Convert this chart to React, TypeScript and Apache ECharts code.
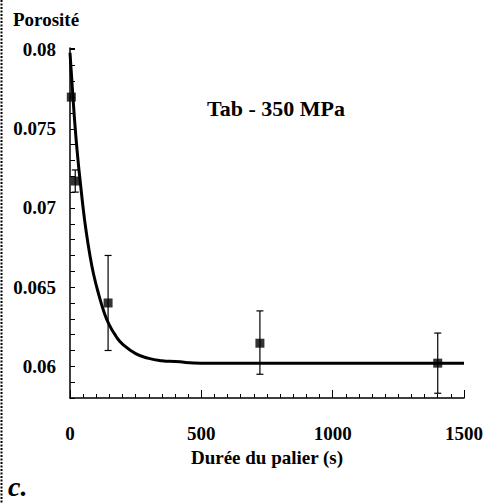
import React, { useEffect, useRef } from "react";
import * as echarts from "echarts";

// Measured points: time (s), porosity, error bar low / high
const pointTimes = [5, 20, 145, 723, 1400];
const pointValues = [0.0770, 0.0717, 0.0640, 0.06146, 0.0602];
const errLow = [0.0770, 0.0710, 0.0610, 0.0595, 0.0583];
const errHigh = [0.0770, 0.0724, 0.0670, 0.0635, 0.0621];

// Fitted curve
const curveTimes = [0, 10, 20, 30, 40, 50, 60, 75, 90, 110, 130, 150, 175, 200, 250, 300, 350, 400, 500, 1000, 1500];
const curveValues = [0.0798, 0.0773, 0.0750, 0.0731, 0.0715, 0.0700, 0.0687, 0.0671, 0.0658, 0.0645, 0.0634, 0.0626, 0.0619, 0.0614, 0.0608, 0.0605, 0.06035, 0.0603, 0.0602, 0.0602, 0.0602];

const yLabelValues = [0.06, 0.065, 0.07, 0.075, 0.08];

const FONT = "'Liberation Serif', 'DejaVu Serif', serif";

export default function App() {
  const ref = useRef<HTMLDivElement>(null);
  useEffect(() => {
    if (!ref.current) return;
    const chart = echarts.init(ref.current, undefined, { renderer: "svg" });
    const curve = curveTimes.map((t, i) => [t, curveValues[i]]);
    const pts = pointTimes.map((t, i) => [t, pointValues[i]]);
    const errs = pointTimes.map((t, i) => [t, errLow[i], errHigh[i]]);
    chart.setOption({
      animation: false,
      backgroundColor: "#fff",
      grid: { left: 70, right: 22, top: 48, bottom: 106 },
      xAxis: {
        type: "value",
        min: 0,
        max: 1500,
        interval: 500,
        name: "Durée du palier (s)",
        nameLocation: "middle",
        nameGap: 42,
        nameTextStyle: { fontFamily: FONT, fontWeight: "bold", fontSize: 19, color: "#000" },
        axisLine: { show: true, lineStyle: { color: "#000", width: 1.5 } },
        axisTick: { show: true, inside: true, length: 8, lineStyle: { color: "#000", width: 1 } },
        minorTick: { show: true, splitNumber: 10, length: 4, lineStyle: { color: "#000", width: 1 } },
        splitLine: { show: false },
        axisLabel: {
          fontFamily: FONT, fontWeight: "bold", fontSize: 19, color: "#000", margin: 26,
          formatter: (v: number) => String(v),
        },
      },
      yAxis: {
        type: "value",
        min: 0.058,
        max: 0.0801,
        interval: 0.001,
        axisLine: { show: true, lineStyle: { color: "#000", width: 1.5 } },
        axisTick: { show: true, inside: true, length: 5, lineStyle: { color: "#000", width: 1 } },
        splitLine: { show: false },
        axisLabel: {
          fontFamily: FONT,
          fontWeight: "bold",
          fontSize: 19,
          color: "#000",
          margin: 14,
          formatter: (v: number) => {
            const hit = yLabelValues.find((l) => Math.abs(l - v) < 1e-7);
            return hit !== undefined ? String(hit) : "";
          },
        },
      },
      graphic: [
        {
          type: "line",
          shape: { x1: 1.5, y1: 0, x2: 1.5, y2: 504 },
          style: { stroke: "#000", lineWidth: 2, lineDash: [2, 1.5] },
        },
        {
          type: "text",
          left: 13,
          top: 10,
          style: { text: "Porosité", font: `bold 19px ${FONT}`, fill: "#000" },
        },
        {
          type: "text",
          x: 276,
          y: 108,
          style: { text: "Tab - 350 MPa", font: `bold 22px ${FONT}`, fill: "#000", textAlign: "center", textVerticalAlign: "middle" },
        },
        {
          type: "text",
          left: 8,
          top: 472,
          style: { text: "c.", font: `italic bold 28px ${FONT}`, fill: "#000" },
        },
      ],
      series: [
        {
          type: "line",
          data: curve,
          smooth: true,
          showSymbol: false,
          lineStyle: { color: "#000", width: 3 },
          z: 2,
        },
        {
          type: "custom",
          data: errs,
          renderItem: (params: any, api: any) => {
            const x = api.value(0);
            const lo = api.coord([x, api.value(1)]);
            const hi = api.coord([x, api.value(2)]);
            if (Math.abs(lo[1] - hi[1]) < 1) return { type: "group", children: [] };
            const w = 3.5;
            const st = { stroke: "#000", lineWidth: 1.2 };
            return {
              type: "group",
              children: [
                { type: "line", shape: { x1: lo[0], y1: lo[1], x2: hi[0], y2: hi[1] }, style: st },
                { type: "line", shape: { x1: lo[0] - w, y1: lo[1], x2: lo[0] + w, y2: lo[1] }, style: st },
                { type: "line", shape: { x1: hi[0] - w, y1: hi[1], x2: hi[0] + w, y2: hi[1] }, style: st },
              ],
            };
          },
          z: 3,
        },
        {
          type: "scatter",
          data: pts,
          symbol: "rect",
          symbolSize: 9,
          itemStyle: { color: "#000" },
          z: 4,
        },
      ],
    });
    return () => chart.dispose();
  }, []);
  return <div ref={ref} style={{ width: 486, height: 504, position: "absolute", left: 0, top: 0 }} />;
}
